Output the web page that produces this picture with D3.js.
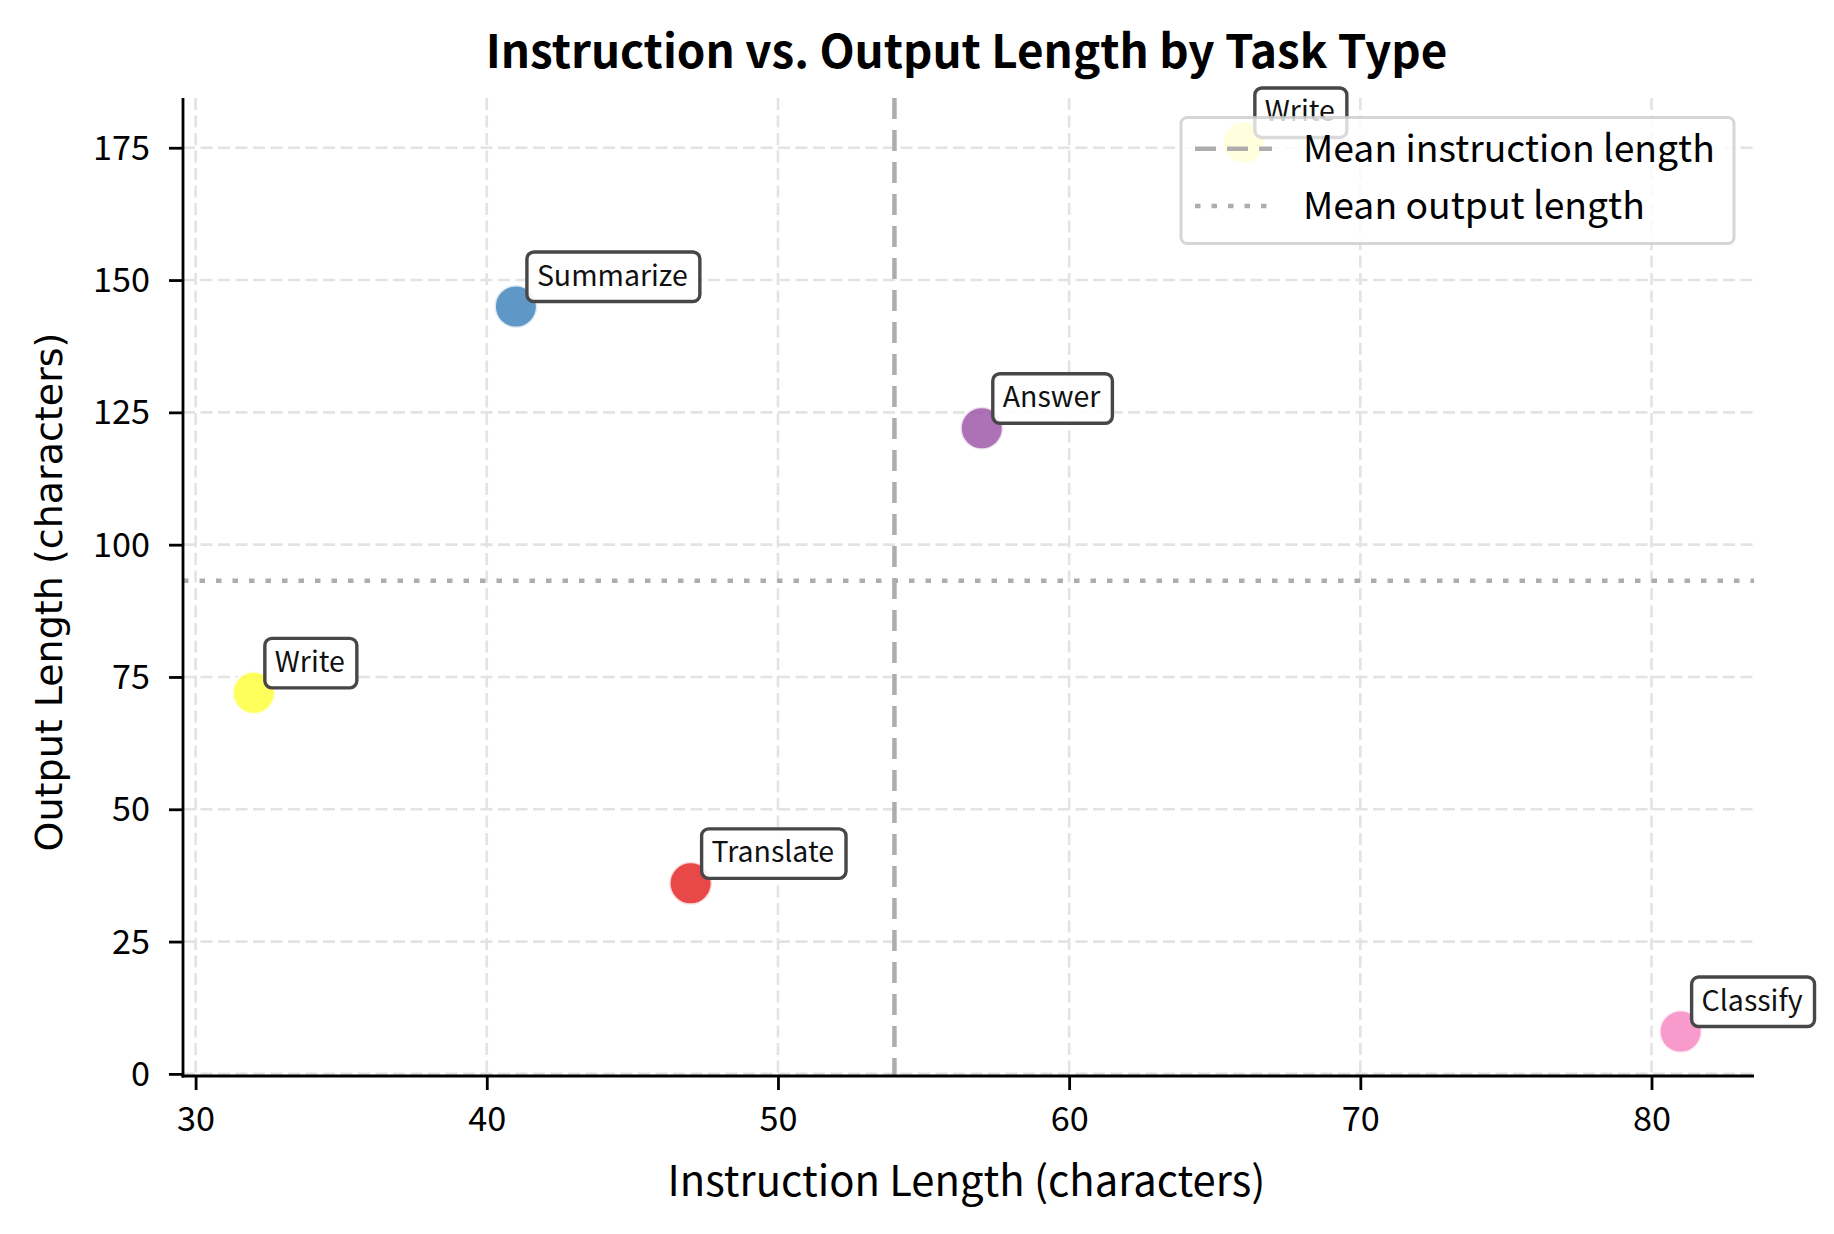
<!DOCTYPE html>
<html>
<head>
<meta charset="utf-8">
<script src="https://cdn.jsdelivr.net/npm/d3@7"></script>
<style>
  html, body { margin: 0; padding: 0; background: #ffffff; }
  svg { display: block; }
</style>
</head>
<body>
<script>
// ---- data ----
const taskNames = ["Write", "Summarize", "Translate", "Answer", "Write", "Classify"];
const instructionLength = [32, 41, 47, 57, 66, 81];
const outputLength = [72, 145, 36, 122, 176, 8];
const taskColors = ["#ffff33", "#377eb8", "#e41a1c", "#984ea3", "#ffff33", "#f781bf"];
const xTickValues = [30, 40, 50, 60, 70, 80];
const yTickValues = [0, 25, 50, 75, 100, 125, 150, 175];
const legendLabels = ["Mean instruction length", "Mean output length"];
const titleText = "Instruction vs. Output Length by Task Type";
const xLabelText = "Instruction Length (characters)";
const yLabelText = "Output Length (characters)";

// ---- layout ----
const W = 1834, H = 1234;
const plot = { left: 183, right: 1754, top: 98, bottom: 1076 };
const SANS = "'Noto Sans CJK JP', 'Noto Sans', sans-serif";

const svg = d3.select("body").append("svg").attr("width", W).attr("height", H);

const x = d3.scaleLinear().domain([29.567, 83.52]).range([plot.left, plot.right]);
const y = d3.scaleLinear().domain([-0.4, 184.4]).range([plot.bottom, plot.top]);

function fitWidth(sel, target) {
  const w = sel.node().getComputedTextLength();
  const fs = parseFloat(sel.attr("font-size"));
  if (w > 0) sel.attr("font-size", fs * target / w);
  return sel;
}

const data = taskNames.map((t, i) => ({
  task: t, ix: instructionLength[i], oy: outputLength[i], color: taskColors[i]
}));
const meanX = d3.mean(instructionLength);
const meanY = d3.mean(outputLength);

// ---- grid ----
const grid = svg.append("g");
grid.selectAll("line.gx").data(xTickValues).join("line")
  .attr("x1", d => x(d)).attr("x2", d => x(d))
  .attr("y1", plot.top).attr("y2", plot.bottom)
  .attr("stroke", "#e3e3e3").attr("stroke-width", 2.6).attr("stroke-dasharray", "12,5.5");
grid.selectAll("line.gy").data(yTickValues).join("line")
  .attr("x1", plot.left).attr("x2", plot.right)
  .attr("y1", d => y(d)).attr("y2", d => y(d))
  .attr("stroke", "#e3e3e3").attr("stroke-width", 2.6).attr("stroke-dasharray", "12,5.5");

// ---- mean lines ----
svg.append("line")
  .attr("x1", x(meanX)).attr("x2", x(meanX))
  .attr("y1", plot.top).attr("y2", plot.bottom)
  .attr("stroke", "#adadad").attr("stroke-width", 4.5).attr("stroke-dasharray", "21,11");
svg.append("line")
  .attr("x1", plot.left).attr("x2", plot.right)
  .attr("y1", y(meanY)).attr("y2", y(meanY))
  .attr("stroke", "#adadad").attr("stroke-width", 4.5).attr("stroke-dasharray", "5.5,11");

// ---- points ----
svg.append("g").selectAll("circle").data(data).join("circle")
  .attr("cx", d => x(d.ix)).attr("cy", d => y(d.oy)).attr("r", 21.5)
  .attr("fill", d => d.color).attr("fill-opacity", 0.8)
  .attr("stroke", "#ffffff").attr("stroke-opacity", 0.8).attr("stroke-width", 3);

// ---- annotations ----
let annFont = 27;
{
  const probe = svg.append("text").attr("font-family", SANS).attr("font-size", 27).text("Summarize");
  annFont = 27 * 151 / probe.node().getComputedTextLength();
  probe.remove();
}
const ann = svg.append("g");
data.forEach(d => {
  const g = ann.append("g");
  const tx = x(d.ix) + 21, ty = y(d.oy) - 21;
  const rect = g.append("rect");
  const t = g.append("text")
    .attr("x", tx).attr("y", ty)
    .attr("font-family", SANS).attr("font-size", annFont)
    .attr("fill", "#111111").text(d.task);
  const tw = t.node().getComputedTextLength();
  rect.attr("x", tx - 10).attr("y", ty - 33.5)
    .attr("width", tw + 22).attr("height", 49.5)
    .attr("rx", 7).attr("ry", 7)
    .attr("fill", "#ffffff").attr("fill-opacity", 0.92)
    .attr("stroke", "#474747").attr("stroke-width", 3.4);
});

// ---- spines & ticks ----
const axG = svg.append("g");
axG.append("line").attr("x1", plot.left).attr("x2", plot.left)
  .attr("y1", plot.top).attr("y2", plot.bottom + 1.5)
  .attr("stroke", "#000").attr("stroke-width", 2.8);
axG.append("line").attr("x1", plot.left - 1.5).attr("x2", plot.right)
  .attr("y1", plot.bottom).attr("y2", plot.bottom)
  .attr("stroke", "#000").attr("stroke-width", 2.8);

const xAxis = d3.axisBottom(x).tickValues(xTickValues).tickSize(14).tickPadding(8).tickFormat(d3.format("d"));
const yAxis = d3.axisLeft(y).tickValues(yTickValues).tickSize(14).tickPadding(19).tickFormat(d3.format("d"));

const gx = svg.append("g").attr("transform", `translate(0,${plot.bottom})`).call(xAxis);
const gy = svg.append("g").attr("transform", `translate(${plot.left},0)`).call(yAxis);
[gx, gy].forEach(g => {
  g.select(".domain").remove();
  g.selectAll(".tick line").attr("stroke", "#000").attr("stroke-width", 2.8);
  g.selectAll(".tick text").attr("font-family", SANS).attr("font-size", 33).attr("fill", "#000");
});
gx.selectAll(".tick text").attr("dy", "0.95em");
gy.selectAll(".tick text").attr("dy", "0.34em");
{
  const probe = gy.selectAll(".tick text").filter(d => d === 175);
  const w = probe.node().getComputedTextLength();
  const fs = 33 * 57 / w;
  gx.selectAll(".tick text").attr("font-size", fs);
  gy.selectAll(".tick text").attr("font-size", fs);
}

// ---- title & labels ----
const title = svg.append("text")
  .attr("x", (plot.left + plot.right) / 2 - 2).attr("y", 68)
  .attr("text-anchor", "middle").attr("font-family", SANS).attr("font-weight", 700)
  .attr("font-size", 44).attr("fill", "#000").text(titleText);
fitWidth(title, 962);

const xl = svg.append("text")
  .attr("x", (plot.left + plot.right) / 2 - 2).attr("y", 1196)
  .attr("text-anchor", "middle").attr("font-family", SANS)
  .attr("font-size", 36).attr("fill", "#000").text(xLabelText);
fitWidth(xl, 598);

const yl = svg.append("text")
  .attr("transform", `translate(62,${(plot.top + plot.bottom) / 2 + 5}) rotate(-90)`)
  .attr("text-anchor", "middle").attr("font-family", "'DejaVu Sans', sans-serif")
  .attr("font-size", 38).attr("fill", "#000").text(yLabelText);
fitWidth(yl, 519);

// ---- legend ----
const lg = svg.append("g");
lg.append("rect")
  .attr("x", 1181).attr("y", 117.5).attr("width", 553).attr("height", 126)
  .attr("rx", 6).attr("ry", 6)
  .attr("fill", "#ffffff").attr("fill-opacity", 0.8)
  .attr("stroke", "#cccccc").attr("stroke-opacity", 0.8).attr("stroke-width", 3);
const legendStyles = [
  { dash: "21,11" },
  { dash: "5.5,11" }
];
const legendRows = [148.7, 206];
legendLabels.forEach((lab, i) => {
  lg.append("line")
    .attr("x1", 1195).attr("x2", 1272)
    .attr("y1", legendRows[i]).attr("y2", legendRows[i])
    .attr("stroke", "#adadad").attr("stroke-width", 4.5)
    .attr("stroke-dasharray", legendStyles[i].dash);
  const t = lg.append("text")
    .attr("x", 1303).attr("y", legendRows[i] + 13)
    .attr("font-family", SANS).attr("font-size", 36).attr("fill", "#000").text(lab);
  if (i === 0) fitWidth(t, 412);
});
{
  const texts = lg.selectAll("text");
  const fs = texts.filter((d, i) => i === 0).attr("font-size");
  texts.attr("font-size", fs);
}
</script>
</body>
</html>
